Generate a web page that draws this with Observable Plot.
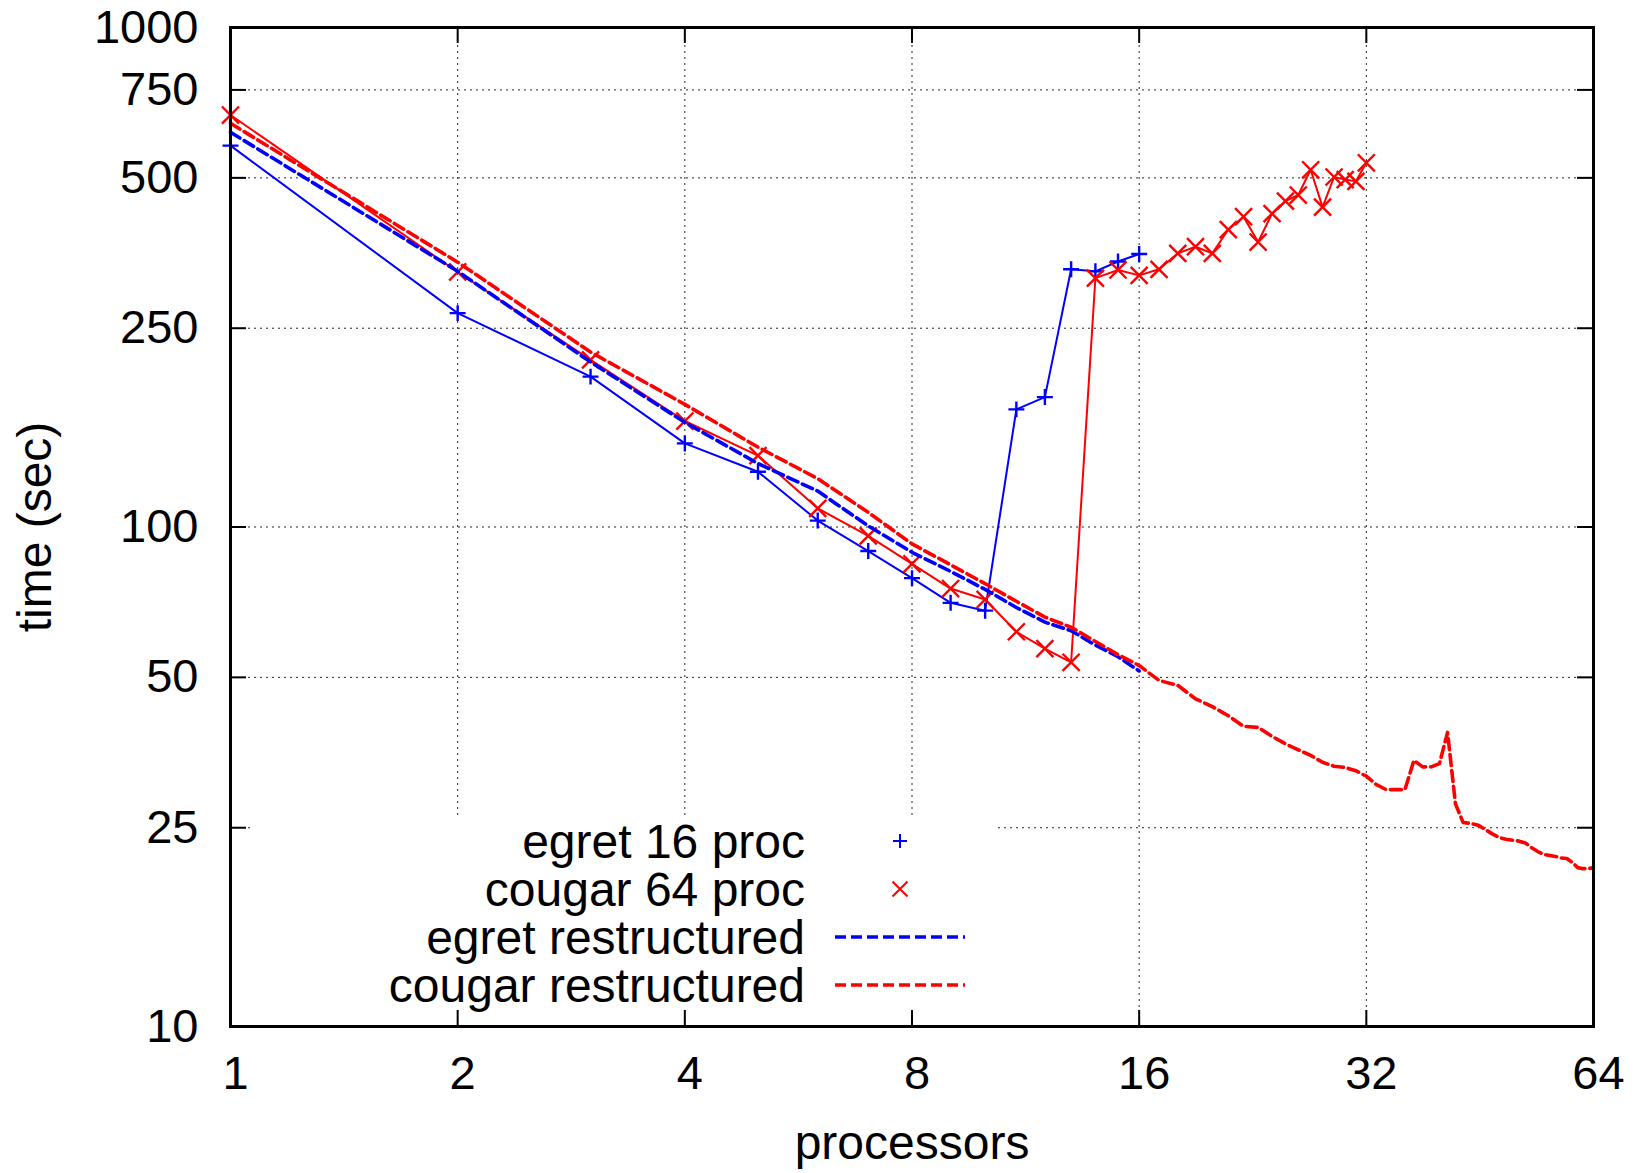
<!DOCTYPE html>
<html>
<head>
<meta charset="utf-8">
<script src="https://cdn.jsdelivr.net/npm/d3@7"></script>
<script src="https://cdn.jsdelivr.net/npm/@observablehq/plot@0.6"></script>
<style>
  body { margin: 0; background: #fff; }
  svg { display: block; }
</style>
</head>
<body>
<div id="chart"></div>
<script>
// ---------- data ----------
const xTicks = [1, 2, 4, 8, 16, 32, 64];
const yTicks = [10, 25, 50, 100, 250, 500, 750, 1000];

const egretProcs = [1, 2, 3, 4, 5, 6, 7, 8, 9, 10, 11, 12, 13, 14, 15, 16];
const egret16 = [580, 268, 200, 147, 129, 103, 89.5, 79, 70.5, 68, 172, 182, 328, 325, 340, 352];

const cougarProcs = [1, 2, 3, 4, 5, 6, 7, 8, 9, 10, 11, 12, 13, 14, 15, 16,
  17, 18, 19, 20, 21, 22, 23, 24, 25, 26, 27, 28, 29, 30, 31, 32];
const cougar64 = [668, 324, 216, 163, 139, 109, 96, 84.4, 75.3, 71.6, 61.7, 57.1, 53.6, 315, 327, 319,
  328, 353, 364, 353, 394, 418, 372, 424, 449, 462, 519, 437, 502, 496, 492, 536];

const egretRestrProcs = [1, 2, 3, 4, 5, 6, 7, 8, 9, 10, 11, 12, 13, 14, 15, 16];
const egretRestr = [617, 325, 214, 162, 134, 118, 100.5, 89, 81.5, 75, 69, 64.5, 62, 58, 55, 51.5];

const cougarRestrProcs = [1, 2, 3, 4, 5, 6, 7, 8, 9, 10, 11, 12, 13, 14, 15, 16,
  17, 18, 19, 20, 21, 22, 23, 24, 25, 26, 27, 28, 29, 30, 31, 32,
  33, 34, 35, 36, 37, 38, 39, 40, 41, 42, 43, 44, 45, 46, 47, 48,
  49, 50, 51, 52, 53, 54, 55, 56, 57, 58, 59, 60, 61, 62, 63, 64];
const cougarRestr = [643, 339, 224, 176, 144.5, 125, 107, 92.5, 84, 77, 71, 66, 63, 59, 55.5, 52.8,
  49.3, 48.2, 45.3, 43.7, 41.9, 39.9, 39.7, 38.1, 36.8, 35.8, 34.9, 33.8, 33.2, 33.0, 32.5, 31.7,
  30.5, 29.8, 29.8, 29.8, 34.1, 33.1, 33.1, 33.6, 38.8, 27.9, 25.6, 25.5, 25.3, 24.8, 24.3, 23.9,
  23.7, 23.6, 23.5, 23.3, 22.8, 22.4, 22.1, 22.0, 21.9, 21.75, 21.7, 21.3, 20.8, 20.7, 20.7, 20.8];

const legendLabels = ["egret 16 proc", "cougar 64 proc", "egret restructured", "cougar restructured"];
const xLabel = "processors";
const yLabel = "time (sec)";

// ---------- layout / style ----------
const W = 1634, H = 1173;
const M = {top: 27, right: 41, bottom: 147, left: 230};
const plotW = W - M.left - M.right;
const plotH = H - M.top - M.bottom;
const FS_TICK = 47;
const FS_TEXT = 48;
const BLUE = "#0000ff", RED = "#ff0000";
const DASH = "11,5";
const TICK = 16;

const rows = (xs, ys) => xs.map((x, i) => ({x, y: ys[i]}));
const egretData = rows(egretProcs, egret16);
const cougarData = rows(cougarProcs, cougar64);
const egretRestrData = rows(egretRestrProcs, egretRestr);
const cougarRestrData = rows(cougarRestrProcs, cougarRestr);

// legend (opaque box inside plot, like gnuplot "key opaque")
function legendMark(index, scales, values, dims) {
  const g = d3.create("svg:g");
  const left = dims.marginLeft + 23;
  const right = dims.marginLeft + 764;
  const top = dims.marginTop + 791;
  const bottom = dims.height - dims.marginBottom;
  g.append("rect")
    .attr("x", left).attr("y", top)
    .attr("width", right - left).attr("height", bottom - top)
    .attr("fill", "white");
  const textX = dims.marginLeft + 575;
  const symX = dims.marginLeft + 670;
  const lx1 = dims.marginLeft + 605, lx2 = dims.marginLeft + 735;
  const styles = [
    {kind: "plus", color: BLUE},
    {kind: "times", color: RED},
    {kind: "line", color: BLUE},
    {kind: "line", color: RED}
  ];
  legendLabels.forEach((label, i) => {
    const cy = top + 23 + 48 * i;
    g.append("text")
      .attr("x", textX).attr("y", cy).attr("dy", "0.35em")
      .attr("text-anchor", "end")
      .attr("font-size", FS_TEXT)
      .attr("fill", "black")
      .text(label);
    const s = styles[i];
    if (s.kind === "plus") {
      g.append("path").attr("d", `M${symX - 7},${cy}H${symX + 7}M${symX},${cy - 7}V${cy + 7}`)
        .attr("stroke", s.color).attr("stroke-width", 2).attr("fill", "none");
    } else if (s.kind === "times") {
      g.append("path").attr("d", `M${symX - 7.5},${cy - 7.5}L${symX + 7.5},${cy + 7.5}M${symX - 7.5},${cy + 7.5}L${symX + 7.5},${cy - 7.5}`)
        .attr("stroke", s.color).attr("stroke-width", 2).attr("fill", "none");
    } else {
      g.append("line").attr("x1", lx1).attr("x2", lx2).attr("y1", cy).attr("y2", cy)
        .attr("stroke", s.color).attr("stroke-width", 3.5).attr("stroke-dasharray", DASH);
    }
  });
  return g.node();
}

const chart = Plot.plot({
  width: W,
  height: H,
  marginTop: M.top,
  marginRight: M.right,
  marginBottom: M.bottom,
  marginLeft: M.left,
  style: {fontFamily: "'Liberation Sans', Arial, Helvetica, sans-serif", fontSize: FS_TICK + "px", background: "white", overflow: "visible"},
  x: {type: "log", base: 2, domain: [1, 64], axis: null},
  y: {type: "log", domain: [10, 1000], axis: null},
  marks: [
    // dotted grid
    Plot.ruleX(xTicks, {x: d => d, stroke: "#000", strokeWidth: 1, strokeDasharray: "2,4", strokeOpacity: 0.85}),
    Plot.ruleY(yTicks, {y: d => d, stroke: "#000", strokeWidth: 1, strokeDasharray: "2,4", strokeOpacity: 0.85}),
    // opaque legend box + entries
    legendMark,
    // series, in gnuplot order
    Plot.line(egretData, {x: "x", y: "y", stroke: BLUE, strokeWidth: 2}),
    Plot.dot(egretData, {x: "x", y: "y", symbol: "plus", r: 5.2, stroke: BLUE, strokeWidth: 2.4}),
    Plot.line(cougarData, {x: "x", y: "y", stroke: RED, strokeWidth: 2}),
    Plot.dot(cougarData, {x: "x", y: "y", symbol: "times", r: 7.8, stroke: RED, strokeWidth: 2.4}),
    Plot.line(egretRestrData, {x: "x", y: "y", stroke: BLUE, strokeWidth: 3.6, strokeDasharray: DASH}),
    Plot.line(cougarRestrData, {x: "x", y: "y", stroke: RED, strokeWidth: 3.6, strokeDasharray: DASH}),
    // inward major ticks on all four sides
    Plot.ruleX(xTicks, {x: d => d, insetTop: plotH - TICK, stroke: "#000", strokeWidth: 2}),
    Plot.ruleX(xTicks, {x: d => d, insetBottom: plotH - TICK, stroke: "#000", strokeWidth: 2}),
    Plot.ruleY(yTicks, {y: d => d, insetRight: plotW - TICK, stroke: "#000", strokeWidth: 2}),
    Plot.ruleY(yTicks, {y: d => d, insetLeft: plotW - TICK, stroke: "#000", strokeWidth: 2}),
    Plot.frame({stroke: "#000", strokeWidth: 3}),
    // tick labels
    Plot.text(xTicks, {x: d => d, text: d => String(d), frameAnchor: "bottom", lineAnchor: "middle", textAnchor: "middle", dy: 47, dx: 5, fontSize: FS_TICK, fill: "#000"}),
    Plot.text(yTicks, {y: d => d, text: d => String(d), frameAnchor: "left", lineAnchor: "middle", dx: -32, textAnchor: "end", fontSize: FS_TICK, fill: "#000"}),
    // axis titles
    Plot.text([xLabel], {text: d => d, frameAnchor: "bottom", lineAnchor: "middle", textAnchor: "middle", dy: 117, fontSize: FS_TEXT, fill: "#000"}),
    Plot.text([yLabel], {text: d => d, frameAnchor: "left", lineAnchor: "middle", textAnchor: "middle", rotate: -90, dx: -195, fontSize: FS_TEXT, fill: "#000"})
  ]
});

document.getElementById("chart").appendChild(chart);
</script>
</body>
</html>
